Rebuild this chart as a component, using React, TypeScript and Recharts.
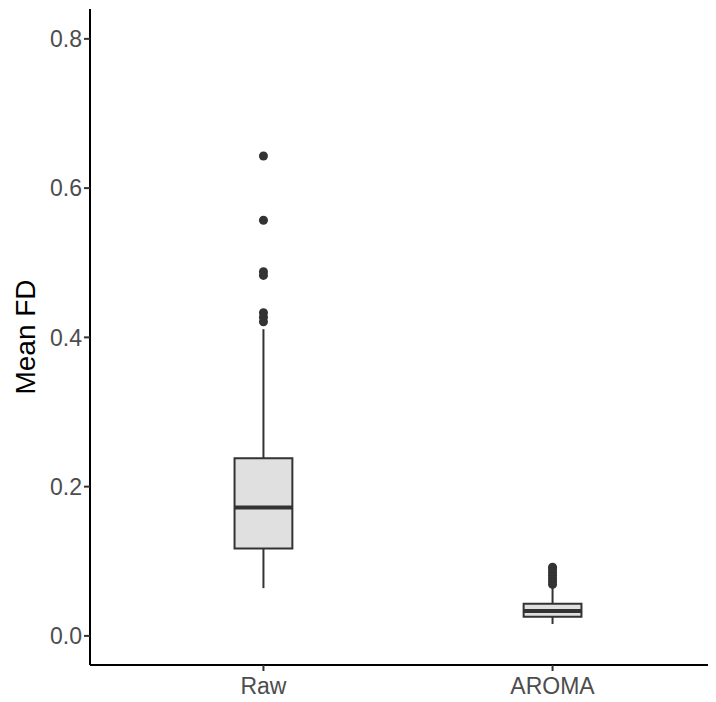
import {
  ComposedChart,
  ReferenceArea,
  ReferenceLine,
  Scatter,
  XAxis,
  YAxis,
} from "recharts";

// box statistics per group
const categories = ["Raw", "AROMA"];
const lowerWhisker = [0.064, 0.016];
const q1 = [0.117, 0.0255];
const median = [0.172, 0.0335];
const q3 = [0.238, 0.043];
const upperWhisker = [0.411, 0.065];
const rawOutliers = [0.643, 0.557, 0.488, 0.483, 0.433, 0.427, 0.421];
const aromaOutliers = [0.092, 0.089, 0.085, 0.081, 0.077, 0.073, 0.069];
const yTicks = [0, 0.2, 0.4, 0.6, 0.8];

const outliers = [rawOutliers, aromaOutliers].flatMap((vals, i) =>
  vals.map((v) => ({ x: i + 1, y: v }))
);

const HALF = 0.1;
const INK = "#333333";
const FONT = "Liberation Sans, Arial, sans-serif";

export default function App() {
  return (
    <div style={{ margin: "-8px 0 0 -8px", width: 716, height: 702, overflow: "hidden", background: "#fff" }}>
      <ComposedChart
        width={740}
        height={702}
        margin={{ top: 9, right: 14, bottom: 0, left: 30 }}
      >
        <XAxis
          type="number"
          dataKey="x"
          domain={[0.4, 2.6]}
          ticks={[1, 2]}
          tickFormatter={(v: number) => categories[v - 1]}
          allowDataOverflow
          height={37}
          axisLine={{ stroke: "#000", strokeWidth: 2 }}
          tickLine={{ stroke: INK, strokeWidth: 2 }}
          tickSize={6}
          tick={{ fill: "#4d4d4d", fontSize: 23, fontFamily: FONT, dy: 5 }}
        />
        <YAxis
          type="number"
          dataKey="y"
          domain={[-0.039, 0.84]}
          ticks={yTicks}
          tickFormatter={(v: number) => v.toFixed(1)}
          allowDataOverflow
          width={60}
          axisLine={{ stroke: "#000", strokeWidth: 2 }}
          tickLine={{ stroke: INK, strokeWidth: 2 }}
          tickSize={6}
          tick={{ fill: "#4d4d4d", fontSize: 23, fontFamily: FONT }}
          label={{
            value: "Mean FD",
            angle: -90,
            position: "insideLeft",
            offset: -5,
            style: { textAnchor: "middle", fill: "#000", fontSize: 28, fontFamily: FONT },
          }}
        />
        {categories.map((c, i) => (
          <ReferenceLine
            key={c + "lo"}
            segment={[{ x: i + 1, y: lowerWhisker[i] }, { x: i + 1, y: q1[i] }]}
            stroke={INK}
            strokeWidth={2}
          />
        ))}
        {categories.map((c, i) => (
          <ReferenceLine
            key={c + "hi"}
            segment={[{ x: i + 1, y: q3[i] }, { x: i + 1, y: upperWhisker[i] }]}
            stroke={INK}
            strokeWidth={2}
          />
        ))}
        {categories.map((c, i) => (
          <ReferenceArea
            key={c + "box"}
            x1={i + 1 - HALF}
            x2={i + 1 + HALF}
            y1={q1[i]}
            y2={q3[i]}
            fill="#e0e0e0"
            fillOpacity={1}
            stroke={INK}
            strokeWidth={2}
          />
        ))}
        {categories.map((c, i) => (
          <ReferenceLine
            key={c + "med"}
            segment={[{ x: i + 1 - HALF, y: median[i] }, { x: i + 1 + HALF, y: median[i] }]}
            stroke={INK}
            strokeWidth={4}
          />
        ))}
        <Scatter data={outliers} fill={INK} isAnimationActive={false} />
      </ComposedChart>
    </div>
  );
}
